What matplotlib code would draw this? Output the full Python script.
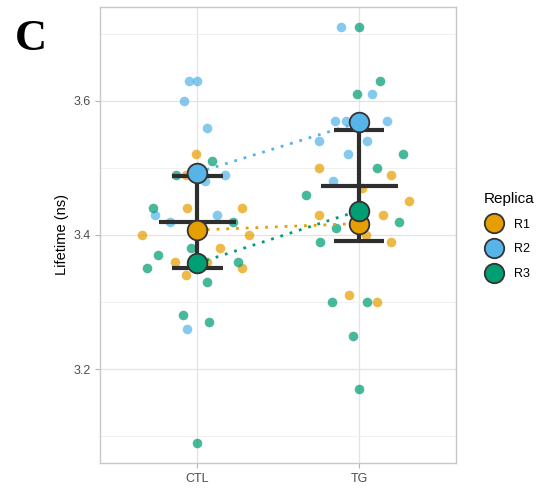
import numpy as np
import matplotlib
matplotlib.use("Agg")
import matplotlib.pyplot as plt
from matplotlib.lines import Line2D

plt.rcParams['font.family'] = ['Liberation Sans', 'DejaVu Sans']

# --- data ---
groups = ["CTL", "TG"]
replicas = ["R1", "R2", "R3"]
colors = {"R1": "#E69F00", "R2": "#56B4E9", "R3": "#009E73"}

# individual lifetimes (ns) per group / replica
ctl_r1 = [3.52, 3.49, 3.44, 3.44, 3.40, 3.40, 3.38, 3.36, 3.35, 3.34, 3.36]
ctl_r2 = [3.63, 3.63, 3.60, 3.56, 3.49, 3.48, 3.43, 3.43, 3.42, 3.26]
ctl_r3 = [3.51, 3.49, 3.44, 3.42, 3.38, 3.37, 3.36, 3.35, 3.33, 3.28, 3.27, 3.09]
tg_r1 = [3.50, 3.49, 3.47, 3.45, 3.43, 3.43, 3.40, 3.39, 3.31, 3.30]
tg_r2 = [3.71, 3.61, 3.57, 3.57, 3.57, 3.54, 3.54, 3.52, 3.48]
tg_r3 = [3.71, 3.63, 3.61, 3.52, 3.50, 3.46, 3.42, 3.41, 3.39, 3.30, 3.30, 3.25, 3.17]

# horizontal jitter (category units) seen in the picture
ctl_r1_jit = [-0.01, -0.07, -0.06, 0.28, -0.34, 0.32, 0.14, -0.14, 0.28, -0.07, 0.06]
ctl_r2_jit = [-0.05, 0.00, -0.08, 0.06, 0.17, 0.05, -0.26, 0.12, -0.17, -0.06]
ctl_r3_jit = [0.09, -0.13, -0.27, 0.22, -0.04, -0.24, 0.25, -0.31, 0.06, -0.09, 0.07, 0.00]
tg_r1_jit = [-0.25, 0.20, 0.02, 0.31, -0.25, 0.15, 0.04, 0.20, -0.06, 0.11]
tg_r2_jit = [-0.11, 0.08, -0.15, -0.08, 0.17, -0.25, 0.05, -0.07, -0.16]
tg_r3_jit = [0.00, 0.13, -0.01, 0.27, 0.11, -0.33, 0.25, -0.14, -0.24, -0.17, 0.05, -0.04, 0.00]

values = {
    "CTL": {"R1": ctl_r1, "R2": ctl_r2, "R3": ctl_r3},
    "TG": {"R1": tg_r1, "R2": tg_r2, "R3": tg_r3},
}
jitter = {
    "CTL": {"R1": ctl_r1_jit, "R2": ctl_r2_jit, "R3": ctl_r3_jit},
    "TG": {"R1": tg_r1_jit, "R2": tg_r2_jit, "R3": tg_r3_jit},
}

fig = plt.figure(figsize=(5.59, 4.93), dpi=100)
ax = fig.add_axes([0.179, 0.061, 0.637, 0.925])

xpos = {g: i + 1 for i, g in enumerate(groups)}

# small points
for g in groups:
    for r in replicas:
        x = xpos[g] + np.array(jitter[g][r])
        ax.scatter(x, values[g][r], s=48, color=colors[r], alpha=0.72,
                   linewidths=0, zorder=3)

# replica means
rep_means = {g: {r: np.mean(values[g][r]) for r in replicas} for g in groups}

# dotted lines joining replica means
for r in replicas:
    ax.plot([xpos[g] for g in groups], [rep_means[g][r] for g in groups],
            ls=(0, (1, 2.5)), lw=2, color=colors[r], zorder=4)

# mean +/- sd of replica means
dark = "#2e2e2e"
for g in groups:
    m = np.array([rep_means[g][r] for r in replicas])
    mu, sd = m.mean(), m.std(ddof=1)
    x0 = xpos[g]
    ax.vlines(x0, mu - sd, mu + sd, color=dark, lw=3, zorder=5)
    ax.hlines([mu - sd, mu + sd], x0 - 0.157, x0 + 0.157, color=dark, lw=3, zorder=5)
    ax.hlines(mu, x0 - 0.238, x0 + 0.238, color=dark, lw=3, zorder=5)

# big replica-mean markers
for g in groups:
    for r in replicas:
        ax.scatter(xpos[g], rep_means[g][r], s=200, color=colors[r],
                   edgecolors="#333333", linewidths=1.3, zorder=6)

# axes styling (ggplot theme_light-ish)
ax.set_xlim(0.4, 2.6)
ax.set_ylim(3.06, 3.74)
ax.set_xticks([1, 2])
ax.set_xticklabels(groups)
ax.set_yticks([3.2, 3.4, 3.6])
ax.set_yticks([3.1, 3.3, 3.5, 3.7], minor=True)
ax.grid(True, which="major", color="#e3e3e3", lw=0.9)
ax.grid(True, which="minor", axis="y", color="#f0f0f0", lw=0.7)
ax.set_axisbelow(True)
for sp in ax.spines.values():
    sp.set_color("#c8c8c8")
    sp.set_linewidth(1.0)
ax.tick_params(axis="both", which="major", colors="#b3b3b3", length=3.5,
               width=0.8, labelcolor="#4d4d4d", labelsize=9)
ax.tick_params(axis="y", which="minor", length=0)
ax.set_ylabel("Lifetime (ns)", fontsize=10.5, color="black", labelpad=3)

# legend
handles = [Line2D([], [], marker="o", ls="", markersize=14, markerfacecolor=colors[r],
                  markeredgecolor="#333333", markeredgewidth=1.3) for r in replicas]
leg = fig.legend(handles, replicas, title="Replica", loc="upper left",
                 bbox_to_anchor=(0.845, 0.634), frameon=False, fontsize=9,
                 title_fontsize=11, labelspacing=1.03, handletextpad=0.8,
                 handlelength=1.6)
leg._legend_box.align = "left"

fig.text(0.026, 0.961, "C", fontsize=32, fontweight="bold",
         family=["Liberation Serif", "DejaVu Serif"], va="top", ha="left")

fig.savefig("out.png", dpi=100)
